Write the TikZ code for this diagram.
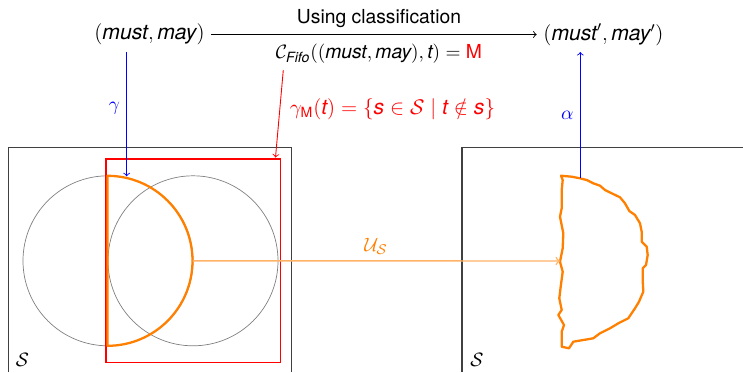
\documentclass[tikz,border=0pt,11pt]{standalone}
\usepackage{amsmath,amssymb}
\usepackage{fontspec}
\setmainfont{TeX Gyre Heros}
\newcommand\vi[1]{\textit{#1}}
\begin{document}
\begin{tikzpicture}[x=0.567pt,y=-0.567pt,
  boxline/.style={draw=black!75,line width=0.9pt},
  circ/.style={draw=black!50,line width=0.4pt},
  reg/.style={draw=orange,line width=1.3pt,line join=round},
  redbox/.style={draw=red,line width=0.8pt},
  maparrow/.style={->,line width=0.5pt},
  bigmath/.style={font=\fontsize{12}{14}\selectfont},
  flow/.style={->,draw=orange!60,line width=0.8pt}]
\useasboundingbox (0,0) rectangle (743,372);

% state-space boxes (cut by the picture's bottom / right border)
\draw[boxline] (8.3,372) -- (8.3,147.3) -- (291.7,147.3) -- (291.7,372);
\draw[boxline] (462,372) -- (462,147.3) -- (743,147.3);

% circles
\draw[circ] (108,260.8) circle[radius=85];
\draw[circ] (193,260.8) circle[radius=85];

% red box
\draw[redbox] (106,159) rectangle (280.7,362.7);

% orange half disk
\draw[reg] (107.5,175.8) arc[start angle=-90,end angle=90,radius=85] -- cycle;
\coordinate (u1) at (192.5,260.8);

% wobbly region
\draw[reg] (561,175.7) -- (571.7,176.7) -- (580,178.3) -- (586.7,180) -- (593.3,183.3)
  -- (600,185.7) -- (605,190) -- (611.7,193.3) -- (620,197.3) -- (625,203.3)
  -- (629.3,211) -- (635,215) -- (640,223.3) -- (641.7,231.7) -- (641.7,241.7)
  -- (646.7,246.7) -- (647.7,255) -- (646,265) -- (642.7,268.3) -- (642.7,280)
  -- (643.3,291.7) -- (639,301.7) -- (635,308.3) -- (628.3,318.3) -- (618.3,323.3)
  -- (610,328.3) -- (600,333.3) -- (593.3,338.3) -- (583.3,340) -- (573.3,341.7)
  -- (569,348.3) -- (561.7,346.7) -- (561.7,331.7) -- (564,325) -- (558.3,315)
  -- (561.7,310) -- (559.3,298.3) -- (560.7,286.7) -- (562.7,271.7) -- (560,261.7)
  -- (562.7,248.3) -- (563.3,233.3) -- (560,216.7) -- (561.7,208.3) -- (561.7,190)
  -- (562.7,180) -- cycle;
\coordinate (u2) at (560,261);

% S labels
\node (s1) at (22.5,360) {$\mathcal{S}$};
\node (s2) at (477,359.5) {$\mathcal{S}$};

% top row
\node[bigmath] (src) at (149.5,34.5) {$(\vi{must}, \vi{may})$};
\node[bigmath] (dst) at (603.5,34.5) {$(\vi{must}', \vi{may}')$};
\draw[maparrow] (src) -- (dst);
\node[anchor=base] (using) at (379,23) {Using classification};
\node[anchor=base] (cls) at (379,58.5) {$\mathcal{C}_{\vi{Fifo}}((\vi{must}, \vi{may}), \vi{t}) = \textcolor{red}{\text{M}}$};

% gamma
\coordinate (g1) at (126.7,52);
\coordinate (g2) at (126.7,176.3);
\draw[maparrow,blue] (g1) -- (g2) node[pos=0.45,left,text=blue] (gam) {$\gamma$};

% alpha
\coordinate (a1) at (580.3,178);
\coordinate (a2) at (580.3,52);
\draw[maparrow,blue] (a1) -- (a2) node[pos=0.5,left,text=blue] (alp) {$\alpha$};

% gamma_M
\coordinate (r1) at (283.3,70);
\coordinate (r2) at (275.5,157.5);
\draw[maparrow,red] (r1) -- (r2);
\node[text=red,bigmath] (gm) at (392.5,109.5) {$\gamma_{\text{M}}(\vi{t}) = \{\vi{s} \in \mathcal{S} \mid \vi{t} \notin \vi{s}\}$};

% update
\draw[flow] (u1) -- (u2);
\node[text=orange] (us) at (376,246) {$\mathcal{U}_{\mathcal{S}}$};
\end{tikzpicture}
\end{document}
